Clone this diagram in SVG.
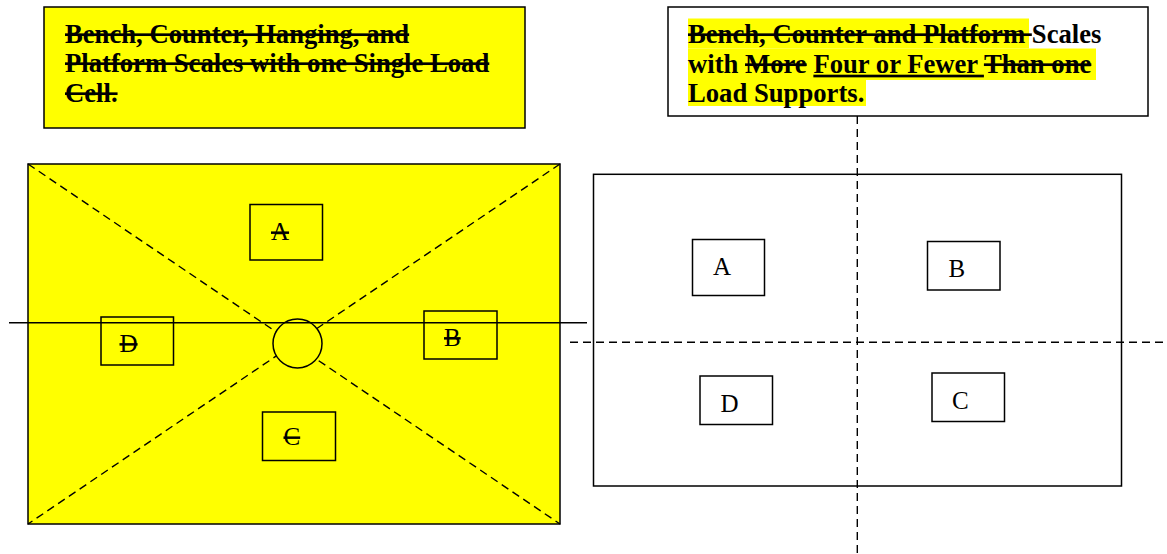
<svg xmlns="http://www.w3.org/2000/svg" width="1167" height="554" viewBox="0 0 1167 554">
<style>
.box{fill:none;stroke:#000;stroke-width:1.5}
.wbox{fill:#fff;stroke:#000;stroke-width:1.5}
.ybox{fill:#ffff00;stroke:#000;stroke-width:1.5}
.dash{fill:none;stroke:#000;stroke-width:1.4;stroke-dasharray:8,5}
.solid{fill:none;stroke:#000;stroke-width:1.4}
.hl{fill:#ffff00;stroke:none}
.title{font-family:"Liberation Serif","Times New Roman",serif;font-weight:bold;font-size:26.67px;fill:#000}
.lbl{font-family:"Liberation Serif","Times New Roman",serif;font-size:25px;fill:#000}
.st{text-decoration:line-through}
.ul{text-decoration:underline}
</style>
<rect width="1167" height="554" fill="#fff"/>

<g id="title-left">
<rect class="ybox" x="44" y="7" width="481" height="121"/>
<text class="title st" x="65" y="42.7">Bench, Counter, Hanging, and</text>
<text class="title st" x="65" y="71.7">Platform Scales with one Single Load</text>
<text class="title st" x="65" y="101.7">Cell.</text>
</g>

<g id="title-right">
<rect class="wbox" x="668" y="7" width="480" height="109"/>
<rect class="hl" x="688" y="18.5" width="341" height="30"/>
<rect class="hl" x="688" y="48.5" width="408" height="31.5"/>
<rect class="hl" x="688" y="80" width="178" height="26"/>
<text class="title" x="688" y="42.7"><tspan class="st">Bench, Counter and Platform </tspan>Scales</text>
<text class="title" x="688" y="72.7">with <tspan class="st">More</tspan> <tspan class="ul">Four or Fewer </tspan><tspan class="st">Than one</tspan></text>
<text class="title" x="688" y="101.7">Load Supports.</text>
</g>

<g id="platform-left">
<rect class="ybox" x="28" y="164" width="532" height="360"/>
</g>

<g id="connectors">
<line class="dash" x1="28" y1="164" x2="560" y2="524"/>
<line class="dash" x1="560" y1="164" x2="28" y2="524"/>
<line class="dash" x1="857.3" y1="116" x2="857.3" y2="554"/>
<line class="dash" x1="570" y1="342.3" x2="1167" y2="342.3"/>
</g>

<g id="load-cell">
<ellipse cx="297.5" cy="343.5" rx="24.5" ry="24.5" fill="#ffff00" stroke="#000" stroke-width="1.5"/>
</g>

<g id="left-A">
<rect class="box" x="250" y="204.5" width="72.5" height="55.5"/>
<text class="lbl st" x="271" y="240">A</text>
</g>
<g id="left-B">
<rect class="box" x="424" y="311" width="73" height="48"/>
<text class="lbl st" x="444" y="345.7">B</text>
</g>
<g id="left-C">
<rect class="box" x="262.5" y="412" width="73" height="48.5"/>
<text class="lbl st" x="283.5" y="445">C</text>
</g>
<g id="left-D">
<rect class="box" x="101" y="317" width="72.5" height="48"/>
<text class="lbl st" x="119.5" y="351.7">D</text>
</g>

<g id="beam-line">
<line class="solid" x1="9" y1="322.7" x2="587" y2="322.7"/>
</g>

<g id="platform-right">
<rect class="box" x="593.5" y="174.3" width="528" height="311.7"/>
</g>
<g id="right-A">
<rect class="wbox" x="692.5" y="239.5" width="72" height="56"/>
<text class="lbl" x="713" y="275">A</text>
</g>
<g id="right-B">
<rect class="wbox" x="927.5" y="241.5" width="72.5" height="48.5"/>
<text class="lbl" x="948.5" y="276.7">B</text>
</g>
<g id="right-C">
<rect class="wbox" x="932" y="373" width="72.5" height="48.5"/>
<text class="lbl" x="952" y="409.3">C</text>
</g>
<g id="right-D">
<rect class="wbox" x="700" y="376" width="72.5" height="48.5"/>
<text class="lbl" x="720.5" y="411.7">D</text>
</g>
</svg>
